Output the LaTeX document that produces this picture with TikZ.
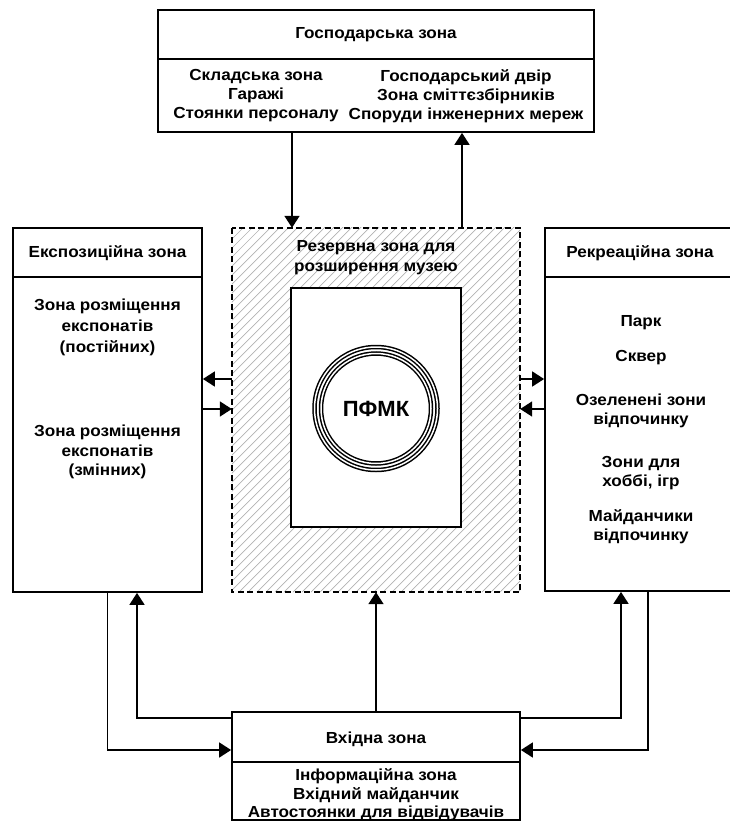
\documentclass[tikz,border=0pt]{standalone}
\usepackage{fontspec}
\setmainfont[FakeStretch=1.07]{Liberation Sans}
\newfontfamily\plainfont{Liberation Sans}
\usetikzlibrary{arrows.meta,calc}
\begin{document}
\begin{tikzpicture}[x=1pt,y=-1pt,
  box/.style={draw, line width=1.8pt, rectangle, inner sep=0pt},
  con/.style={line width=1.8pt},
  arr/.style={con, -{Triangle[length=12pt,width=15pt]}},
  hatch/.style={gray!60, line width=0.7pt},
  txt/.style={font=\bfseries\fontsize{16}{19}\selectfont, align=center, inner sep=0pt},
  big/.style={font=\plainfont\bfseries\fontsize{22}{26}\selectfont, inner sep=0pt}]
\useasboundingbox (0,0) rectangle (730,821);
% boxes
\node[box, minimum width=436pt, minimum height=122pt] (gosp) at (376,71) {};
\draw[con] (gosp.west |- 0,59) -- (gosp.east |- 0,59);
\node[box, minimum width=189pt, minimum height=364pt] (eksp) at (107.5,410) {};
\draw[con] (eksp.west |- 0,277) -- (eksp.east |- 0,277);
\node[box, minimum width=190pt, minimum height=363pt] (rekr) at (640,409.5) {};
\draw[con] (rekr.west |- 0,277) -- (rekr.east |- 0,277);
\node[box, minimum width=288pt, minimum height=108pt] (vkh) at (376,766) {};
\draw[con] (vkh.west |- 0,762) -- (vkh.east |- 0,762);
% reserve zone
\path (376,410) node[minimum width=288pt, minimum height=364pt, inner sep=0pt] (res) {};
\begin{scope}
  \clip (res.north west) rectangle (res.south east);
  \foreach \k in {0,...,80} {
    \draw[hatch] ($(res.south west)+(\k*9-380,0)$) -- ++(420,-420);
  }
\end{scope}
\draw[line width=1.8pt, dash pattern=on 6pt off 3.5pt] (res.north west) rectangle (res.south east);
\node[box, fill=white, minimum width=170pt, minimum height=239pt] (inner) at (376,407.5) {};
\draw[line width=1.5pt, double distance=1.5pt] (376,408.5) circle (61.5);
\draw[line width=1.5pt, double distance=1.5pt] (376,408.5) circle (55);
\node[big] (pfmk) at (376,409) {ПФМК};
% texts
\node[txt] (gospt) at (376,35) {Господарська зона};
\node[txt] (gospl) at (256,96) {Складська зона\\Гаражі\\Стоянки персоналу};
\node[txt] (gospr) at (466,96) {Господарський двір\\Зона сміттєзбірників\\Споруди інженерних мереж};
\node[txt] (ekspt) at (107.5,253) {Експозиційна зона};
\node[txt, font=\bfseries\fontsize{16}{21}\selectfont] (eksp1) at (107.5,327) {Зона розміщення\\експонатів\\(постійних)};
\node[txt, font=\bfseries\fontsize{16}{19.5}\selectfont] (eksp2) at (107.5,452) {Зона розміщення\\експонатів\\(змінних)};
\node[txt, font=\bfseries\fontsize{16}{20}\selectfont] (rest) at (376,258) {Резервна зона для\\розширення музею};
\node[txt] (rekrt) at (640,253) {Рекреаційна зона};
\node[txt] (r1) at (641,323) {Парк};
\node[txt] (r2) at (641,358) {Сквер};
\node[txt] (r3) at (641,411) {Озеленені зони\\відпочинку};
\node[txt] (r4) at (641,473) {Зони для\\хоббі, ігр};
\node[txt] (r5) at (641,527) {Майданчики\\відпочинку};
\node[txt] (vkht) at (376,739) {Вхідна зона};
\node[txt, font=\bfseries\fontsize{16}{18.5}\selectfont] (vkhl) at (376,795) {Інформаційна зона\\Вхідний майданчик\\Автостоянки для відвідувачів};
% connectors
\draw[arr] (292,0 |- gosp.south) -- (292,0 |- res.north);
\draw[arr] (462,0 |- res.north) -- (462,0 |- gosp.south);
\draw[arr] (res.west |- 0,379) -- (eksp.east |- 0,379);
\draw[arr] (eksp.east |- 0,409) -- (res.west |- 0,409);
\draw[arr] (res.east |- 0,379) -- (rekr.west |- 0,379);
\draw[arr] (rekr.west |- 0,409) -- (res.east |- 0,409);
\draw[arr] (eksp.south) |- (vkh.west |- 0,750);
\draw[arr] (vkh.west |- 0,718) -| (137,0 |- eksp.south);
\draw[arr] (vkh.north) -- (res.south);
\draw[arr] (648,0 |- rekr.south) |- (vkh.east |- 0,750);
\draw[arr] (vkh.east |- 0,718) -| (621,0 |- rekr.south);
\end{tikzpicture}
\end{document}
